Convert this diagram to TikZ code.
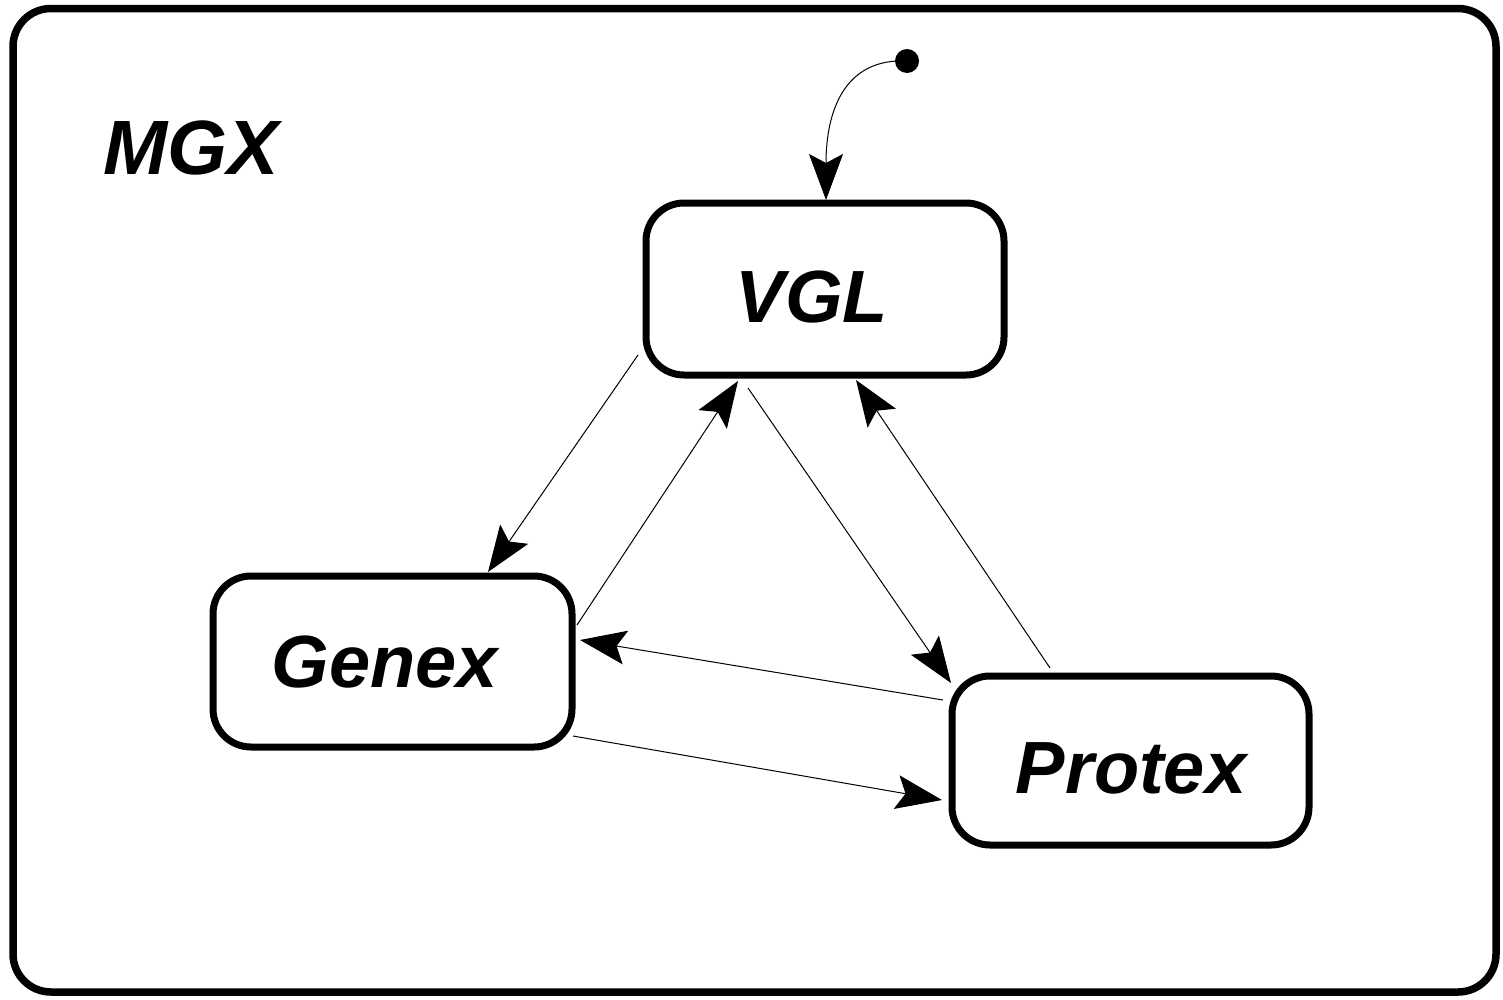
\documentclass[tikz,border=0pt]{standalone}
\usepackage{fontspec}
\setmainfont{Liberation Sans}
\usetikzlibrary{arrows.meta}
\begin{document}
\begin{tikzpicture}[x=1pt,y=-1pt,
  box/.style={draw,line width=7pt,rounded corners=38pt,inner sep=0pt},
  lbl/.style={font=\fontsize{74}{80}\selectfont\bfseries\itshape},
  arr/.style={line width=1pt,-{Stealth[length=46pt,width=34pt,inset=9pt]}}]
\useasboundingbox (0,0) rectangle (1503,999);
\draw[line width=7.5pt,rounded corners=38pt] (13,8.5) rectangle (1496,992);
\node[lbl,anchor=west] (mgx) at (100,148) {\fontsize{77}{80}\selectfont MGX};
\node[box,minimum width=358pt,minimum height=172pt] (vgl) at (825,289) {};
\node[lbl] (vglt) at (812,297) {VGL};
\node[box,minimum width=359pt,minimum height=171pt] (genex) at (392.5,661.5) {};
\node[lbl] (genext) at (385,662) {Genex};
\node[box,minimum width=357pt,minimum height=169pt] (protex) at (1130.5,760.5) {};
\node[lbl] (protext) at (1131,768) {Protex};
\fill (907,61) circle (12pt);
\coordinate (dot) at (907,61);
\coordinate (vtop) at (826,200);
\draw[arr] (dot) .. controls (845,58) and (826,110) .. (vtop);
\coordinate (a1) at (638,355); \coordinate (b1) at (488,572);
\coordinate (a2) at (577,625); \coordinate (b2) at (738,381);
\coordinate (a3) at (748,388); \coordinate (b3) at (951,683);
\coordinate (a4) at (1050,668); \coordinate (b4) at (856,380);
\coordinate (a5) at (943,700); \coordinate (b5) at (580,640);
\coordinate (a6) at (573,736); \coordinate (b6) at (942,800);
\draw[arr] (a1) -- (b1);
\draw[arr] (a2) -- (b2);
\draw[arr] (a3) -- (b3);
\draw[arr] (a4) -- (b4);
\draw[arr] (a5) -- (b5);
\draw[arr] (a6) -- (b6);
\end{tikzpicture}
\end{document}
